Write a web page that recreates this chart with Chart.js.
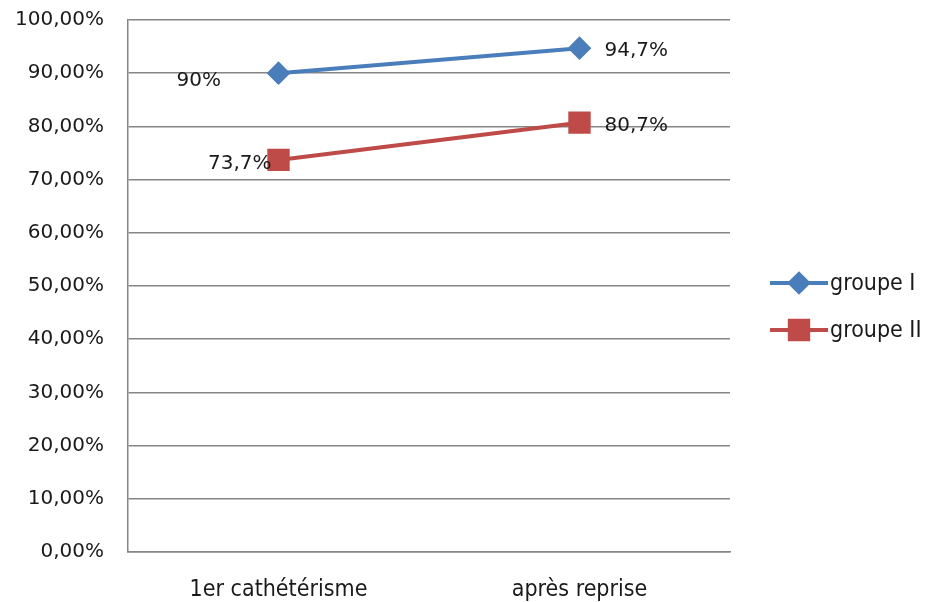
<!DOCTYPE html>
<html>
<head>
<meta charset="utf-8">
<script src="https://cdn.jsdelivr.net/npm/chart.js@4.4.0/dist/chart.umd.min.js"></script>
<style>
  html, body { margin: 0; padding: 0; background: #fff; }
  #wrap { width: 925px; height: 602px; }
</style>
</head>
<body>
<div id="wrap"><canvas id="c" width="925" height="602"></canvas></div>
<script>
const categories = ['1er cathétérisme', 'après reprise'];
const seriesNames = ['groupe I', 'groupe II'];
const groupe1 = [90, 94.7];
const groupe2 = [73.7, 80.7];
const labels1 = ['90%', '94,7%'];
const labels2 = ['73,7%', '80,7%'];

const blue = '#4a7ebb';
const red = '#be4b48';
const grey = '#868686';

// value labels next to each point (offsets only, values come from the scale)
const valueLabels = {
  id: 'valueLabels',
  afterDatasetsDraw(chart) {
    const ctx = chart.ctx;
    ctx.save();
    ctx.font = '20px "DejaVu Sans", Verdana, sans-serif';
    ctx.fillStyle = '#1a1a1a';
    ctx.textBaseline = 'middle';
    const txt = [labels1, labels2];
    const offs = [
      [[-102, 8, 'left'], [25, 3, 'left']],
      [[-7, 4, 'right'], [25, 3, 'left']]
    ];
    chart.data.datasets.forEach((ds, i) => {
      const meta = chart.getDatasetMeta(i);
      meta.data.forEach((pt, j) => {
        const o = offs[i][j];
        ctx.textAlign = o[2];
        ctx.fillText(txt[i][j], pt.x + o[0], pt.y + o[1]);
      });
    });
    ctx.restore();
  }
};

// legend on the right: line + marker + name
const sideLegend = {
  id: 'sideLegend',
  afterDraw(chart) {
    const ctx = chart.ctx;
    ctx.save();
    const x0 = 770, x1 = 828, ys = [283, 330];
    chart.data.datasets.forEach((ds, i) => {
      const y = ys[i];
      ctx.strokeStyle = ds.borderColor;
      ctx.lineWidth = 4;
      ctx.beginPath();
      ctx.moveTo(x0, y);
      ctx.lineTo(x1, y);
      ctx.stroke();
      ctx.fillStyle = ds.pointBackgroundColor;
      ctx.strokeStyle = ds.pointBorderColor;
      Chart.helpers.drawPoint(ctx, {
        pointStyle: ds.pointStyle, radius: ds.pointRadius, borderWidth: 1
      }, (x0 + x1) / 2, y);
      ctx.fillStyle = '#1a1a1a';
      ctx.font = '23px "DejaVu Sans Condensed", "Liberation Sans Narrow", sans-serif';
      ctx.textAlign = 'left';
      ctx.textBaseline = 'middle';
      ctx.fillText(ds.label, x1 + 2, y + 1);
    });
    ctx.restore();
  }
};

new Chart(document.getElementById('c'), {
  type: 'line',
  data: {
    labels: categories,
    datasets: [
      {
        label: seriesNames[0], data: groupe1,
        borderColor: blue, backgroundColor: blue,
        pointBackgroundColor: blue, pointBorderColor: blue,
        borderWidth: 4, pointStyle: 'rectRot', pointRadius: 9, pointHoverRadius: 9
      },
      {
        label: seriesNames[1], data: groupe2,
        borderColor: red, backgroundColor: red,
        pointBackgroundColor: red, pointBorderColor: red,
        borderWidth: 4, pointStyle: 'rect', pointRadius: 13, pointHoverRadius: 13
      }
    ]
  },
  options: {
    responsive: false,
    animation: false,
    layout: { padding: { left: 0, top: 20, right: 195, bottom: 0 } },
    plugins: { legend: { display: false }, tooltip: { enabled: false } },
    scales: {
      x: {
        offset: true,
        grid: { display: false, drawTicks: false },
        border: { color: grey, width: 1.5 },
        ticks: {
          color: '#1a1a1a', padding: 24,
          font: { family: '"DejaVu Sans Condensed", "Liberation Sans Narrow", sans-serif', size: 23 }
        },
        afterFit(scale) { scale.height = 50; scale.paddingLeft = 0; scale.paddingRight = 0; }
      },
      y: {
        min: 0, max: 100,
        grid: { color: grey, lineWidth: 1.5, drawTicks: false },
        border: { color: grey, width: 1.5 },
        ticks: {
          stepSize: 10, color: '#1a1a1a', padding: 24,
          font: { family: '"DejaVu Sans", Verdana, sans-serif', size: 20 },
          callback: v => v.toFixed(2).replace('.', ',') + '%'
        },
        afterFit(scale) { scale.width = 128; scale.paddingTop = 0; scale.paddingBottom = 0; }
      }
    }
  },
  plugins: [valueLabels, sideLegend]
});
</script>
</body>
</html>
